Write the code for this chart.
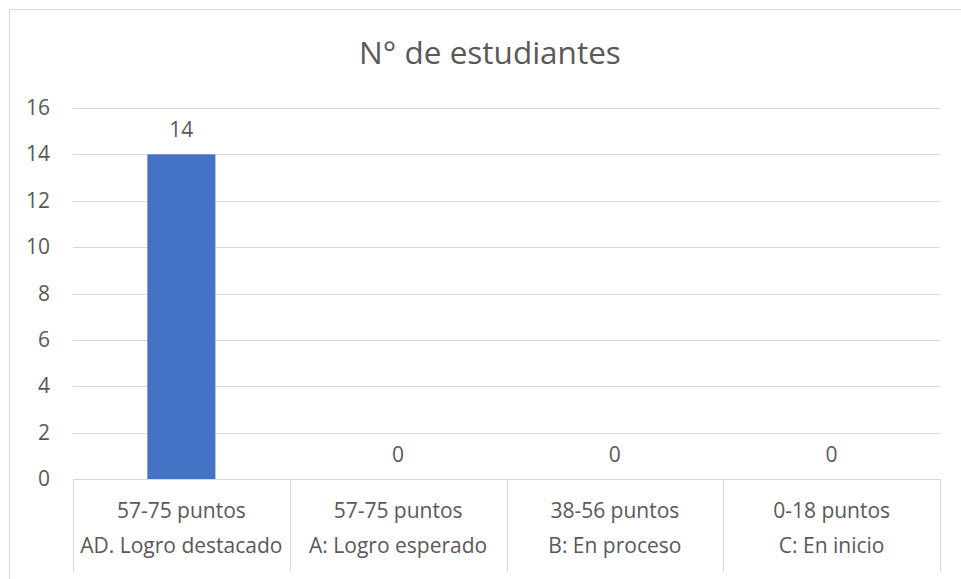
<!DOCTYPE html>
<html>
<head>
<meta charset="utf-8">
<script src="https://cdn.jsdelivr.net/npm/d3@7"></script>
<style>
  body { margin: 0; background: #fff; }
  text { font-family: "Open Sans", Lato, sans-serif; fill: #595959; }
</style>
</head>
<body>
<div id="chart"></div>
<script>
const rangos = ["57-75 puntos", "57-75 puntos", "38-56 puntos", "0-18 puntos"];
const niveles = ["AD. Logro destacado", "A: Logro esperado", "B: En proceso", "C: En inicio"];
const estudiantes = [14, 0, 0, 0];
const yTicks = [0, 2, 4, 6, 8, 10, 12, 14, 16];

const width = 961;
const height = 579;
const plot = { left: 73, right: 940, top: 108, bottom: 479 };
const fs = "21px";

const svg = d3
  .select("#chart")
  .append("svg")
  .attr("width", width)
  .attr("height", height);

// chart border (cut off at right and bottom like the original)
svg
  .append("rect")
  .attr("x", 9.5)
  .attr("y", 9.5)
  .attr("width", 1000)
  .attr("height", 1000)
  .attr("fill", "none")
  .attr("stroke", "#d9d9d9");

const data = estudiantes.map((v, i) => ({ key: i, value: v }));

const x = d3
  .scaleBand()
  .domain(data.map((d) => d.key))
  .range([plot.left, plot.right])
  .padding(0);

const y = d3
  .scaleLinear()
  .domain([0, 16])
  .range([plot.bottom, plot.top]);

// gridlines
svg
  .append("g")
  .selectAll("line")
  .data(yTicks)
  .enter()
  .append("line")
  .attr("x1", plot.left)
  .attr("x2", plot.right)
  .attr("y1", (d) => Math.round(y(d)) + 0.5)
  .attr("y2", (d) => Math.round(y(d)) + 0.5)
  .attr("stroke", "#d9d9d9")
  .attr("stroke-width", 1);

// y tick labels
svg
  .append("g")
  .selectAll("text")
  .data(yTicks)
  .enter()
  .append("text")
  .attr("x", 50)
  .attr("y", (d) => y(d) + 7)
  .attr("text-anchor", "end")
  .style("font-size", fs)
  .text((d) => d);

// bars
const barW = x.bandwidth() * 0.314;
svg
  .append("g")
  .selectAll("rect")
  .data(data)
  .enter()
  .append("rect")
  .attr("x", (d) => x(d.key) + x.bandwidth() / 2 - barW / 2)
  .attr("y", (d) => y(d.value))
  .attr("width", barW)
  .attr("height", (d) => y(0) - y(d.value))
  .attr("fill", "#4472c4");

// data labels
svg
  .append("g")
  .selectAll("text")
  .data(data)
  .enter()
  .append("text")
  .attr("x", (d) => x(d.key) + x.bandwidth() / 2)
  .attr("y", (d) => y(d.value) - 17.5)
  .attr("text-anchor", "middle")
  .style("font-size", fs)
  .text((d) => d.value);

// category separators (two-level axis)
const seps = data.map((d) => x(d.key)).concat([plot.right]);
svg
  .append("g")
  .selectAll("line")
  .data(seps)
  .enter()
  .append("line")
  .attr("x1", (d) => Math.round(d) + 0.5)
  .attr("x2", (d) => Math.round(d) + 0.5)
  .attr("y1", plot.bottom)
  .attr("y2", 572)
  .attr("stroke", "#d9d9d9");

// category labels
const cats = svg.append("g");
cats
  .selectAll("text.rango")
  .data(data)
  .enter()
  .append("text")
  .attr("class", "rango")
  .attr("x", (d) => x(d.key) + x.bandwidth() / 2)
  .attr("y", 518)
  .attr("text-anchor", "middle")
  .style("font-size", fs)
  .text((d) => rangos[d.key]);
cats
  .selectAll("text.nivel")
  .data(data)
  .enter()
  .append("text")
  .attr("class", "nivel")
  .attr("x", (d) => x(d.key) + x.bandwidth() / 2)
  .attr("y", 553)
  .attr("text-anchor", "middle")
  .style("font-size", fs)
  .text((d) => niveles[d.key]);

// title
svg
  .append("text")
  .attr("x", 490)
  .attr("y", 64)
  .attr("text-anchor", "middle")
  .style("font-size", "31.5px")
  .text("N° de estudiantes");
</script>
</body>
</html>
